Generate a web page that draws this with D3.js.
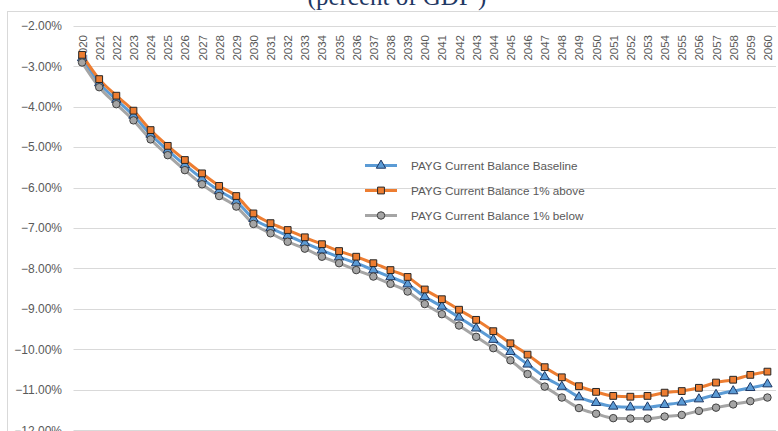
<!DOCTYPE html>
<html>
<head>
<meta charset="utf-8">
<script src="https://cdn.jsdelivr.net/npm/d3@7"></script>
<style>
  html, body { margin: 0; padding: 0; background: #fff; }
  svg { display: block; }
</style>
</head>
<body>
<svg id="chart" width="778" height="431"></svg>
<script>
const years = d3.range(2020, 2061).map(String);
const yTicks = [-2, -3, -4, -5, -6, -7, -8, -9, -10, -11, -12];
const seriesNames = ["PAYG Current Balance Baseline", "PAYG Current Balance 1% above", "PAYG Current Balance 1% below"];
const baseline = [-2.80, -3.42, -3.83, -4.22, -4.69, -5.08, -5.44, -5.78, -6.08, -6.34,
  -6.77, -7.00, -7.19, -7.37, -7.55, -7.72, -7.87, -8.04, -8.21, -8.39,
  -8.70, -8.94, -9.21, -9.48, -9.76, -10.06, -10.37, -10.68, -10.92, -11.18,
  -11.32, -11.41, -11.43, -11.43, -11.37, -11.31, -11.23, -11.12, -11.03, -10.95, -10.86];
const above = [-2.72, -3.32, -3.73, -4.10, -4.58, -4.97, -5.32, -5.65, -5.96, -6.21,
  -6.64, -6.88, -7.05, -7.23, -7.40, -7.57, -7.71, -7.87, -8.04, -8.21,
  -8.52, -8.76, -9.02, -9.27, -9.55, -9.85, -10.13, -10.44, -10.69, -10.91,
  -11.05, -11.15, -11.17, -11.15, -11.07, -11.03, -10.95, -10.82, -10.75, -10.63, -10.55];
const below = [-2.91, -3.52, -3.94, -4.34, -4.81, -5.20, -5.57, -5.92, -6.21, -6.47,
  -6.90, -7.13, -7.34, -7.51, -7.71, -7.87, -8.04, -8.20, -8.38, -8.57,
  -8.88, -9.13, -9.41, -9.69, -9.97, -10.27, -10.61, -10.92, -11.19, -11.45,
  -11.59, -11.70, -11.71, -11.71, -11.66, -11.62, -11.52, -11.44, -11.36, -11.28, -11.19];
const titleText = "(percent of GDP )";

const styles = [
  { color: "#5B9BD5", fill: "#5B9BD5", stroke: "#1F3864", shape: d3.symbolTriangle, size: 38 },
  { color: "#ED7D31", fill: "#ED7D31", stroke: "#262626", shape: d3.symbolSquare, size: 46 },
  { color: "#A5A5A5", fill: "#A5A5A5", stroke: "#404040", shape: d3.symbolCircle, size: 44 }
];
const data = [baseline, above, below];

const svg = d3.select("#chart");
const font = "'Liberation Sans', Arial, sans-serif";

// chart border
svg.append("rect").attr("x", 7.5).attr("y", 11.5).attr("width", 800).attr("height", 500)
  .attr("fill", "#fff").attr("stroke", "#d9d9d9").attr("stroke-width", 1);

// title (cropped at top)
svg.append("text").attr("x", 397).attr("y", 5).attr("text-anchor", "middle")
  .attr("font-family", "'Liberation Serif', 'Times New Roman', serif").attr("font-size", 25)
  .attr("fill", "#1F3864").text(titleText);

const x = d3.scalePoint().domain(years).range([73.5, 776]).padding(0.5);
const y = d3.scaleLinear().domain([-12, -2]).range([430.3, 25.7]);

// gridlines
svg.append("g").selectAll("line").data(yTicks).join("line")
  .attr("x1", 73.5).attr("x2", 776)
  .attr("y1", d => Math.round(y(d)) + 0.5).attr("y2", d => Math.round(y(d)) + 0.5)
  .attr("stroke", "#d9d9d9").attr("stroke-width", 1);

// y axis labels
const yAxis = d3.axisLeft(y).tickValues(yTicks).tickSize(0).tickPadding(0)
  .tickFormat(d => d3.format(".2f")(d) + "%");
const yg = svg.append("g").attr("transform", "translate(62,0)").call(yAxis);
yg.select(".domain").remove();
yg.selectAll("text").attr("font-family", font).attr("font-size", 12).attr("fill", "#595959");

// x axis labels (rotated, near top)
const xAxis = d3.axisTop(x).tickSize(0).tickPadding(0);
const xg = svg.append("g").attr("transform", "translate(0,35)").call(xAxis);
xg.select(".domain").remove();
xg.selectAll("text")
  .attr("font-family", font).attr("font-size", 11.5).attr("fill", "#595959")
  .attr("transform", "rotate(-90)")
  .attr("x", 0).attr("y", 0).attr("dy", "0.35em")
  .attr("text-anchor", "end");

// lines
const line = d3.line().x((d, i) => x(years[i])).y(d => y(d)).curve(d3.curveMonotoneX);
data.forEach((vals, k) => {
  svg.append("path").datum(vals).attr("d", line)
    .attr("fill", "none").attr("stroke", styles[k].color).attr("stroke-width", 3)
    .attr("stroke-linejoin", "round");
});
// markers
data.forEach((vals, k) => {
  const sym = d3.symbol().type(styles[k].shape).size(styles[k].size);
  svg.append("g").selectAll("path").data(vals).join("path")
    .attr("d", sym)
    .attr("transform", (d, i) => `translate(${x(years[i])},${y(d)})`)
    .attr("fill", styles[k].fill).attr("stroke", styles[k].stroke).attr("stroke-width", 1);
});

// legend
const legY = [165.5, 190.5, 215.5];
const lg = svg.append("g");
seriesNames.forEach((name, k) => {
  lg.append("line").attr("x1", 365).attr("x2", 397).attr("y1", legY[k]).attr("y2", legY[k])
    .attr("stroke", styles[k].color).attr("stroke-width", 3);
  lg.append("path").attr("d", d3.symbol().type(styles[k].shape).size(styles[k].size)())
    .attr("transform", `translate(381,${legY[k]})`)
    .attr("fill", styles[k].fill).attr("stroke", styles[k].stroke).attr("stroke-width", 1);
  lg.append("text").attr("x", 411).attr("y", legY[k]).attr("dy", "0.35em")
    .attr("font-family", font).attr("font-size", 11.7).attr("fill", "#595959").text(name);
});
</script>
</body>
</html>
